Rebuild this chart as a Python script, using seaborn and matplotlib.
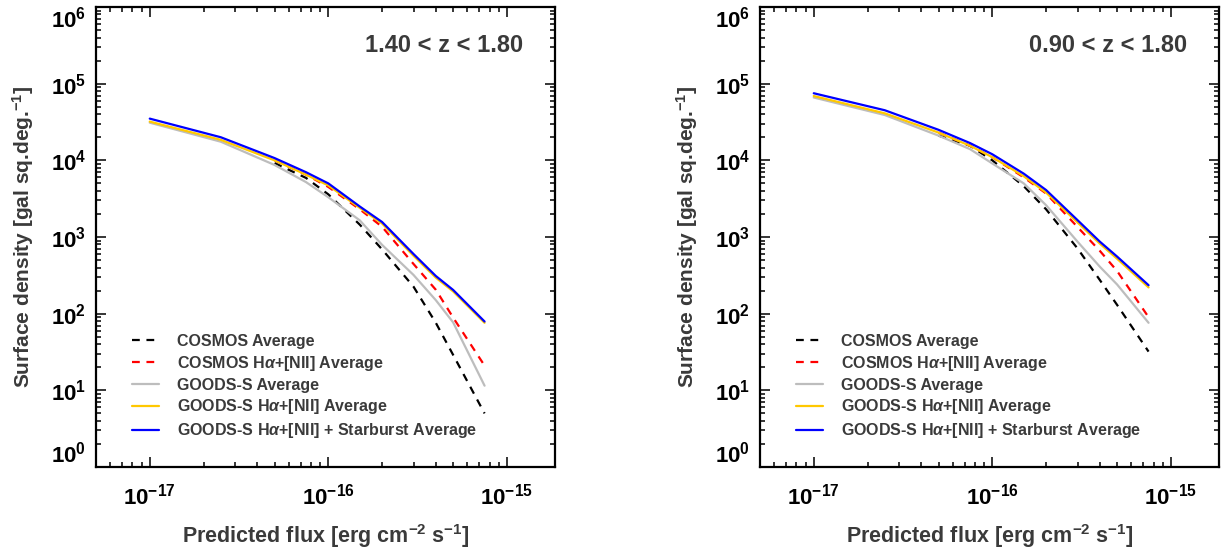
import numpy as np
import pandas as pd
import matplotlib
matplotlib.use("Agg")
import matplotlib.pyplot as plt
import matplotlib.transforms as mtransforms
from matplotlib.ticker import LogLocator, FuncFormatter, NullFormatter
import seaborn as sns

# ---------------- data ----------------
flux = [1e-17, 2.5e-17, 5e-17, 7.5e-17, 1e-16, 1.5e-16, 2e-16, 3e-16, 4e-16, 5e-16, 7.5e-16]

series_names = ["COSMOS Average",
                r"COSMOS H$\mathit{\alpha}$+[NII] Average",
                "GOODS-S Average",
                r"GOODS-S H$\mathit{\alpha}$+[NII] Average",
                r"GOODS-S H$\mathit{\alpha}$+[NII] + Starburst Average"]

# panel 1 : 1.40 < z < 1.80
cosmos_avg_1 = [np.nan, np.nan, 9.2e3, 5.9e3, 3.6e3, 1.45e3, 690, 225, 76, 29, 5.0]
cosmos_ha_1 = [np.nan, np.nan, 1.0e4, 6.5e3, 4.5e3, 2.3e3, 1.36e3, 445, 205, 89, 21]
goods_avg_1 = [3.1e4, 1.75e4, 8.7e3, 5.2e3, 3.3e3, 1.65e3, 790, 320, 150, 77, 11.5]
goods_ha_1 = [3.2e4, 1.85e4, 1.0e4, 6.5e3, 4.7e3, 2.4e3, 1.5e3, 570, 295, 195, 76]
goods_sb_1 = [3.5e4, 2.0e4, 1.07e4, 7.0e3, 5.0e3, 2.5e3, 1.57e3, 600, 310, 204, 79]

# panel 2 : 0.90 < z < 1.80
cosmos_avg_2 = [np.nan, np.nan, 2.1e4, 1.55e4, 1.0e4, 4.6e3, 2.3e3, 710, 275, 130, 32]
cosmos_ha_2 = [np.nan, np.nan, 2.3e4, 1.55e4, 1.1e4, 6.0e3, 3.7e3, 1.35e3, 660, 360, 90]
goods_avg_2 = [6.6e4, 3.9e4, 2.1e4, 1.4e4, 9.1e3, 5.0e3, 2.6e3, 870, 410, 240, 76]
goods_ha_2 = [6.9e4, 4.1e4, 2.3e4, 1.55e4, 1.1e4, 6.2e3, 3.8e3, 1.55e3, 820, 520, 220]
goods_sb_2 = [7.5e4, 4.5e4, 2.5e4, 1.68e4, 1.2e4, 6.7e3, 4.1e3, 1.66e3, 870, 555, 235]

panel_titles = ["1.40 < z < 1.80", "0.90 < z < 1.80"]
xlabel = r"Predicted flux [erg cm$^{-2}$ s$^{-1}$]"
ylabel = r"Surface density [gal sq.deg.$^{-1}$]"

colors = ["#000000", "#ff0000", "#bdbdbd", "#ffc800", "#0000ff"]

# ---------------- style ----------------
sns.set_theme(style="ticks")
plt.rcParams["font.family"] = ["Liberation Sans", "DejaVu Sans"]
plt.rcParams["font.weight"] = "bold"
plt.rcParams["mathtext.fontset"] = "custom"
plt.rcParams["mathtext.rm"] = "Liberation Sans:bold"
plt.rcParams["mathtext.bf"] = "Liberation Sans:bold"
plt.rcParams["mathtext.it"] = "Liberation Sans:italic"
plt.rcParams["mathtext.default"] = "bf"
plt.rcParams["axes.unicode_minus"] = False

fig = plt.figure(figsize=(12.24, 5.53), dpi=100)
ax1 = fig.add_axes([96/1224, 1-467/553, 459/1224, 460/553])
ax2 = fig.add_axes([760/1224, 1-467/553, 459/1224, 460/553])

panels = [
    (ax1, [cosmos_avg_1, cosmos_ha_1, goods_avg_1, goods_ha_1, goods_sb_1], panel_titles[0]),
    (ax2, [cosmos_avg_2, cosmos_ha_2, goods_avg_2, goods_ha_2, goods_sb_2], panel_titles[1]),
]

dash_map = {series_names[0]: (3.5, 3), series_names[1]: (3.5, 3),
            series_names[2]: "", series_names[3]: "", series_names[4]: ""}
pal = dict(zip(series_names, colors))

XMIN, XMAX = 5e-18, 1.86e-15
YMIN, YMAX = 1.0, 1.0e6

def xfmt(v, pos):
    if v < XMIN or v > XMAX:
        return ""
    e = int(round(np.log10(v)))
    return r"$10^{%d}$" % e

def yfmt(v, pos):
    if v <= YMIN * 1.001 or v >= YMAX * 0.999:
        return ""   # edge labels drawn separately, nudged inside like the original
    e = int(round(np.log10(v)))
    return r"$10^{%d}$" % e

text_col = "#3a3a3a"
YPAD = 7

for ax, vals, title in panels:
    rows = []
    for name, ys in zip(series_names, vals):
        for f, y in zip(flux, ys):
            if not np.isnan(y):
                rows.append({"flux": f, "density": y, "series": name})
    df = pd.DataFrame(rows)
    sns.lineplot(data=df, x="flux", y="density", hue="series", style="series",
                 hue_order=series_names, style_order=series_names,
                 palette=pal, dashes=dash_map, lw=1.6, ax=ax,
                 estimator=None, sort=False, legend=True)
    ax.set_xscale("log")
    ax.set_yscale("log")
    ax.set_xlim(XMIN, XMAX)
    ax.set_ylim(YMIN, YMAX)

    ax.xaxis.set_major_locator(LogLocator(base=10, numticks=10))
    ax.xaxis.set_minor_locator(LogLocator(base=10, subs=np.arange(2, 10), numticks=20))
    ax.yaxis.set_major_locator(LogLocator(base=10, numticks=10))
    ax.yaxis.set_minor_locator(LogLocator(base=10, subs=np.arange(2, 10), numticks=20))
    ax.xaxis.set_major_formatter(FuncFormatter(xfmt))
    ax.yaxis.set_major_formatter(FuncFormatter(yfmt))
    ax.xaxis.set_minor_formatter(NullFormatter())
    ax.yaxis.set_minor_formatter(NullFormatter())

    ax.tick_params(which="both", direction="in", top=True, right=True,
                   colors="black", width=1.1)
    ax.tick_params(which="major", length=7, labelsize=16)
    ax.tick_params(which="minor", length=3.5)
    ax.tick_params(axis="x", which="major", pad=12)
    ax.tick_params(axis="y", which="major", pad=YPAD)
    for s in ax.spines.values():
        s.set_linewidth(1.6)
        s.set_color("black")

    # edge labels of the y axis (10^0 and 10^6), kept inside the axis range
    off = mtransforms.ScaledTranslation(-YPAD / 72, 0, fig.dpi_scale_trans)
    tr = ax.get_yaxis_transform() + off
    ax.text(0, YMIN, r"$10^{%d}$" % int(np.log10(YMIN)), transform=tr,
            ha="right", va="bottom", fontsize=16, color="black")
    ax.text(0, YMAX, r"$10^{%d}$" % int(np.log10(YMAX)), transform=tr,
            ha="right", va="top", fontsize=16, color="black")

    ax.set_xlabel(xlabel, fontsize=15.5, fontweight="bold", color=text_col, labelpad=9)
    ax.set_ylabel(ylabel, fontsize=15, fontweight="bold", color=text_col, labelpad=11)

    ax.text(0.930, 0.917, title, transform=ax.transAxes, ha="right", va="center",
            fontsize=17, fontweight="bold", color=text_col)

    handles, labels = ax.get_legend_handles_labels()
    leg = ax.legend(handles, labels, loc="upper left", bbox_to_anchor=(0.078, 0.289),
                    frameon=False, fontsize=11.5, handlelength=1.7, handletextpad=1.1,
                    labelspacing=0.3, borderpad=0, borderaxespad=0)
    for t in leg.get_texts():
        t.set_color(text_col)
        t.set_fontweight("bold")

fig.savefig("out.png", dpi=100)
